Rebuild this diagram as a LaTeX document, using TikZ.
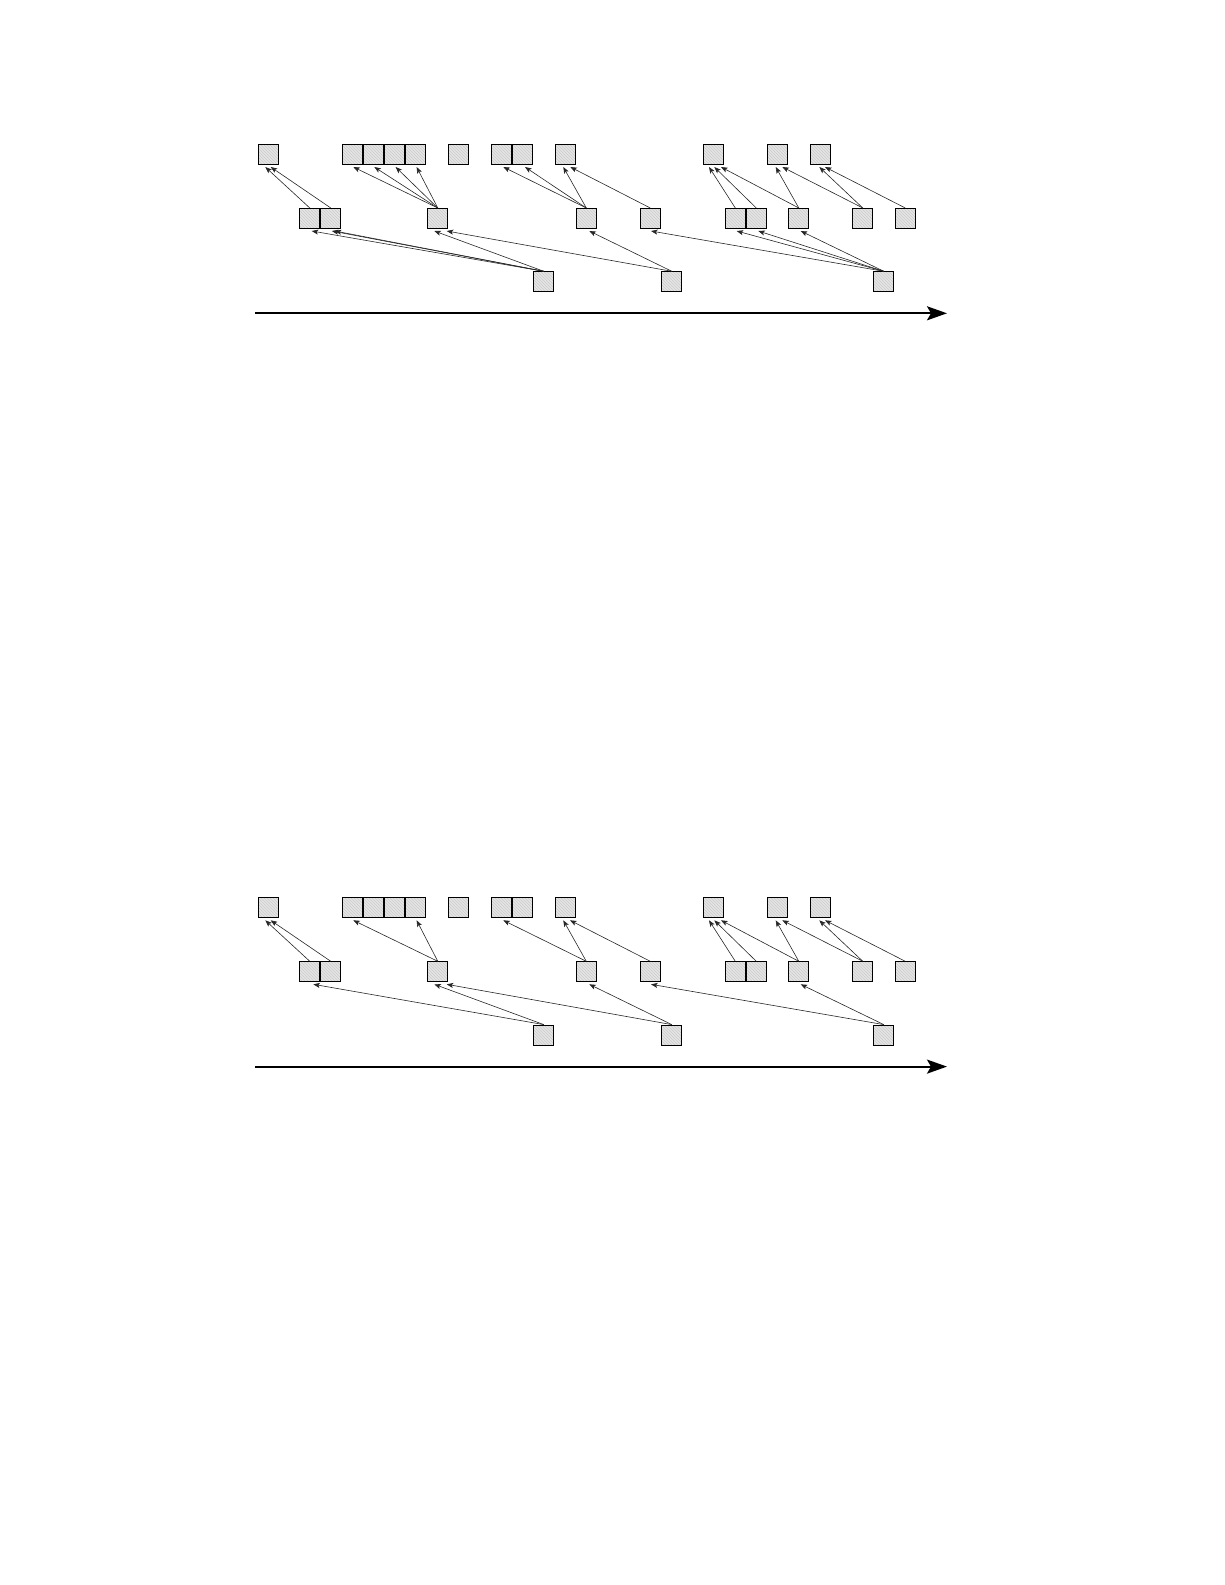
\documentclass[tikz,border=0pt]{standalone}
\usetikzlibrary{arrows.meta,patterns,calc}
\tikzset{
  blk/.style={line width=1pt, minimum size=20pt, inner sep=0pt,
    fill=gray!20, postaction={pattern=north west lines, pattern color=gray!40},
    postaction={draw=black, line width=1pt}},
  dep/.style={draw=black!85, line width=0.6pt, -{Stealth[length=6.5pt,width=5pt,inset=1.5pt]}},
  timeaxis/.style={line width=2pt, -{Stealth[length=20pt,width=14pt,inset=4pt]}}
}
\newcommand\placeboxes[1]{%
  \node[blk] (#1A)  at (268,154.5) {};
  \node[blk] (#1B1) at (352.8,154.5) {};
  \node[blk] (#1B2) at (373.8,154.5) {};
  \node[blk] (#1B3) at (394.8,154.5) {};
  \node[blk] (#1B4) at (415.8,154.5) {};
  \node[blk] (#1C)  at (458.8,154.5) {};
  \node[blk] (#1D1) at (501.3,154.5) {};
  \node[blk] (#1D2) at (522.3,154.5) {};
  \node[blk] (#1E)  at (565.3,154.5) {};
  \node[blk] (#1F)  at (713.8,154.5) {};
  \node[blk] (#1G)  at (777.8,154.5) {};
  \node[blk] (#1H)  at (820.5,154.5) {};
  \node[blk] (#1M1) at (309.8,218.5) {};
  \node[blk] (#1M2) at (330.8,218.5) {};
  \node[blk] (#1M3) at (437.8,218.5) {};
  \node[blk] (#1M4) at (586.3,218.5) {};
  \node[blk] (#1M5) at (650.3,218.5) {};
  \node[blk] (#1M6) at (735.3,218.5) {};
  \node[blk] (#1M7) at (756.3,218.5) {};
  \node[blk] (#1M8) at (798.8,218.5) {};
  \node[blk] (#1M9) at (862.8,218.5) {};
  \node[blk] (#1M10) at (905.3,218.5) {};
  \node[blk] (#1L1) at (543.8,281.8) {};
  \node[blk] (#1L2) at (671.8,281.8) {};
  \node[blk] (#1L3) at (883.8,281.8) {};
  \coordinate (#1ax0) at (255,313.3);
  \coordinate (#1ax1) at (947,313.3);
  \draw[timeaxis] (#1ax0) -- (#1ax1);
}
\newcommand\dep[3]{\draw[dep] (#1.north) -- ($(#2.south)+(#3,2)$);}
\begin{document}
\begin{tikzpicture}[x=1pt,y=-1pt]
\path[use as bounding box] (0,0) rectangle (1225,1585);
% ---------- upper diagram ----------
\placeboxes{t}
\dep{tM1}{tA}{-2.7}
\dep{tM2}{tA}{2.7}
\dep{tM3}{tB1}{0.5}
\dep{tM3}{tB2}{0.5}
\dep{tM3}{tB3}{0.8}
\dep{tM3}{tB4}{0.8}
\dep{tM4}{tD1}{2}
\dep{tM4}{tD2}{2.7}
\dep{tM4}{tE}{-2}
\dep{tM5}{tE}{5}
\dep{tM6}{tF}{-4.8}
\dep{tM7}{tF}{0.5}
\dep{tM8}{tF}{7.2}
\dep{tM8}{tG}{-2.1}
\dep{tM9}{tG}{4.5}
\dep{tM9}{tH}{-1.2}
\dep{tM10}{tH}{4.5}
\dep{tL1}{tM1}{1.9}
\dep{tL1}{tM2}{1}
\dep{tL1}{tM2}{4}
\dep{tL1}{tM3}{-3.5}
\dep{tL2}{tM3}{8.9}
\dep{tL2}{tM4}{3}
\dep{tL3}{tM5}{0.7}
\dep{tL3}{tM6}{1.4}
\dep{tL3}{tM7}{2}
\dep{tL3}{tM8}{1.9}
% ---------- lower diagram ----------
\begin{scope}[yshift=-753.3pt]
\placeboxes{b}
\dep{bM1}{bA}{-2.7}
\dep{bM2}{bA}{2.7}
\dep{bM3}{bB1}{0.5}
\dep{bM3}{bB4}{0.8}
\dep{bM4}{bD1}{2}
\dep{bM4}{bE}{-2}
\dep{bM5}{bE}{4.7}
\dep{bM6}{bF}{-4.8}
\dep{bM7}{bF}{0.5}
\dep{bM8}{bF}{7.2}
\dep{bM8}{bG}{-2.1}
\dep{bM9}{bG}{4.5}
\dep{bM9}{bH}{-1.2}
\dep{bM10}{bH}{4.5}
\dep{bL1}{bM1}{3.5}
\dep{bL1}{bM3}{-3.5}
\dep{bL2}{bM3}{8.9}
\dep{bL2}{bM4}{3}
\dep{bL3}{bM5}{0.7}
\dep{bL3}{bM8}{1.9}
\end{scope}
\end{tikzpicture}
\end{document}
